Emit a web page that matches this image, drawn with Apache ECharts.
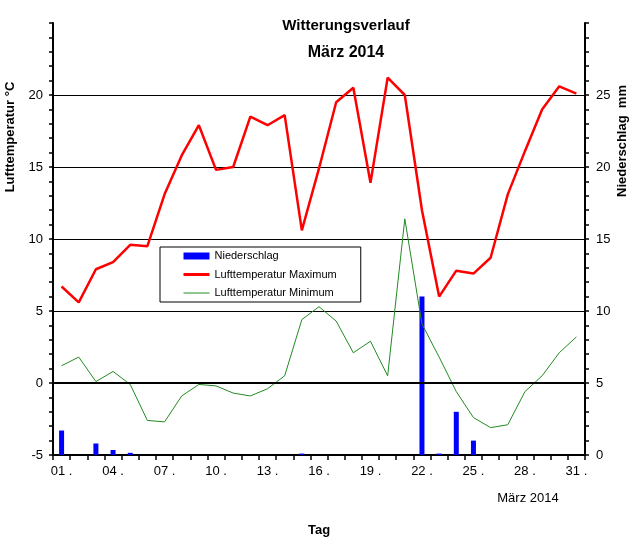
<!DOCTYPE html>
<html><head><meta charset="utf-8">
<script src="https://cdn.jsdelivr.net/npm/echarts@6/dist/echarts.min.js"></script>
<style>html,body{margin:0;padding:0;background:#fff}#c{width:634px;height:545px}</style>
</head><body><div id="c"></div>
<script>
const days = ['01','02','03','04','05','06','07','08','09','10','11','12','13','14','15','16','17','18','19','20','21','22','23','24','25','26','27','28','29','30','31'];
const precip = [1.7,0,0.8,0.35,0.15,0,0,0,0,0,0,0,0,0,0.1,0,0,0,0,0,0,11.0,0.1,3.0,1.0,0,0,0,0,0,0];
const tempMax = [6.7,5.6,7.9,8.4,9.6,9.5,13.1,15.8,17.9,14.8,15.0,18.5,17.9,18.6,10.6,14.9,19.5,20.5,13.9,21.2,20.0,12.0,6.0,7.8,7.6,8.7,13.1,16.1,19.0,20.6,20.1];
const tempMin = [1.2,1.8,0.1,0.8,-0.1,-2.6,-2.7,-0.9,-0.1,-0.2,-0.7,-0.9,-0.4,0.5,4.4,5.3,4.3,2.1,2.9,0.5,11.4,4.1,1.8,-0.6,-2.4,-3.1,-2.9,-0.6,0.5,2.1,3.2];
const tempTicks = {min:-5, max:25, interval:5};
const precipTicks = {min:0, max:30, interval:5};

const FF = "'Liberation Sans', Arial, sans-serif";
const chart = echarts.init(document.getElementById('c'), null, {renderer:'canvas'});
const hiddenSym = {opacity:0, color:'rgba(0,0,0,0)', borderColor:'rgba(0,0,0,0)', borderWidth:0};
chart.setOption({
  animation:false,
  backgroundColor:'#fff',
  grid:{left:53, right:49, top:23, bottom:90, containLabel:false},
  legend:{
    orient:'vertical', left:160, top:247,
    padding:[3,24,3,22], borderColor:'#000', borderWidth:1, backgroundColor:'#fff',
    itemWidth:26, itemHeight:7, itemGap:6.5,
    textStyle:{fontFamily:FF, fontSize:11, color:'#000', lineHeight:12},
    data:[{name:'Niederschlag', icon:'rect'},
          {name:'Lufttemperatur Maximum', itemStyle:hiddenSym, lineStyle:{width:3}},
          {name:'Lufttemperatur Minimum', itemStyle:hiddenSym, lineStyle:{width:1}}]
  },
  graphic:[
    {type:'text', x:346, y:26, style:{text:'Witterungsverlauf', font:"bold 15px "+FF, fill:'#000', align:'center', verticalAlign:'middle'}},
    {type:'text', x:346, y:53, style:{text:'März 2014', font:"bold 16px "+FF, fill:'#000', align:'center', verticalAlign:'middle'}},
    {type:'text', x:528, y:498, style:{text:'März 2014', font:"13px "+FF, fill:'#000', align:'center', verticalAlign:'middle'}},
    {type:'text', x:10, y:137, rotation:Math.PI/2, style:{text:'Lufttemperatur °C', font:"bold 13px "+FF, fill:'#000', align:'center', verticalAlign:'middle'}},
    {type:'text', x:622, y:141, rotation:Math.PI/2, style:{text:'Niederschlag  mm', font:"bold 13px "+FF, fill:'#000', align:'center', verticalAlign:'middle'}}
  ],
  xAxis:{
    type:'category', data:days, boundaryGap:true,
    name:'Tag', nameLocation:'middle', nameGap:69,
    nameTextStyle:{fontFamily:FF, fontSize:13, fontWeight:'bold', color:'#000'},
    axisLine:{onZero:false, lineStyle:{color:'#000', width:2}},
    axisTick:{show:true, interval:0, length:5, lineStyle:{color:'#000', width:1.5}},
    axisLabel:{interval:2, margin:10, fontFamily:FF, fontSize:13, color:'#000', formatter:v=>v+' .'},
    splitLine:{show:false}
  },
  yAxis:[
    {type:'value', min:tempTicks.min, max:tempTicks.max, interval:tempTicks.interval, position:'left',
     axisLine:{show:true, lineStyle:{color:'#000', width:2}},
     axisTick:{show:true, length:4, lineStyle:{color:'#000', width:1.5}},
     minorTick:{show:true, splitNumber:5, length:4, lineStyle:{color:'#000', width:1.5}},
     axisLabel:{showMaxLabel:false, margin:10, fontFamily:FF, fontSize:13, color:'#000'},
     splitLine:{show:true, showMinLine:false, showMaxLine:false, lineStyle:{color:'#000', width:1}}
    },
    {type:'value', min:precipTicks.min, max:precipTicks.max, interval:precipTicks.interval, position:'right',
     axisLine:{show:true, lineStyle:{color:'#000', width:2}},
     axisTick:{show:true, length:4, lineStyle:{color:'#000', width:1.5}},
     minorTick:{show:true, splitNumber:5, length:4, lineStyle:{color:'#000', width:1.5}},
     axisLabel:{showMaxLabel:false, margin:11, fontFamily:FF, fontSize:13, color:'#000'},
     splitLine:{show:false}
    }
  ],
  series:[
    {name:'Niederschlag', type:'bar', yAxisIndex:1, data:precip, barWidth:5, itemStyle:{color:'#0000ff'}},
    {name:'Lufttemperatur Maximum', type:'line', yAxisIndex:0, data:tempMax, symbol:'none', lineStyle:{color:'#ff0000', width:2.5}, itemStyle:{color:'#ff0000'}},
    {name:'Lufttemperatur Minimum', type:'line', yAxisIndex:0, data:tempMin, symbol:'none', lineStyle:{color:'#228b22', width:1}, itemStyle:{color:'#228b22'},
     markLine:{silent:true, symbol:'none', label:{show:false}, lineStyle:{color:'#000', width:2, type:'solid'}, data:[{yAxis:0}]}}
  ]
});
</script></body></html>
